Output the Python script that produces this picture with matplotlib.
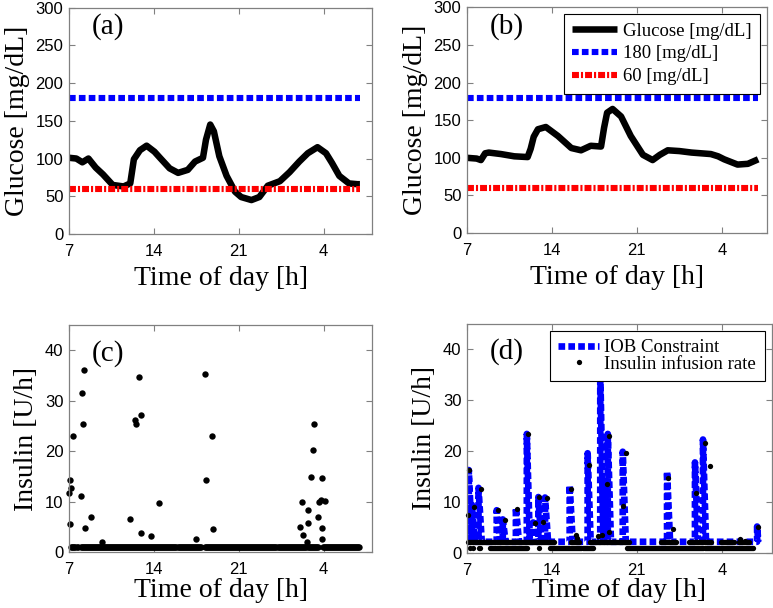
import matplotlib
matplotlib.use("Agg")
import matplotlib.pyplot as plt
import numpy as np

plt.rcParams['lines.scale_dashes'] = False

# ---------------- data ----------------
hour_ticks = [7, 14, 21, 28]
hour_labels = ['7', '14', '21', '4']

# (a) glucose, scenario 1
glucose_a_hours = [7.0, 7.6, 8.1, 8.6, 9.2, 9.8, 10.6, 11.5, 12.05, 12.35, 12.85,
                   13.4, 14.05, 14.5, 15.3, 16.0, 16.8, 17.4, 18.05, 18.3, 18.65,
                   18.95, 19.4, 20.0, 20.7, 21.2, 22.05, 22.7, 23.4, 24.4, 25.2,
                   26.0, 26.7, 27.5, 28.2, 28.7, 29.3, 30.1, 30.8, 31.0]
glucose_a = [101, 100, 95, 100, 88, 79, 65, 63, 67, 99, 111,
             117, 109, 101, 87, 81, 85, 96, 101, 125, 145,
             136, 103, 77, 56, 49, 45, 49, 64, 70, 82,
             96, 107, 115, 107, 94, 77, 67, 66, 66]

# (b) glucose, scenario 2
glucose_b_hours = [7.0, 7.8, 8.15, 8.5, 8.8, 9.8, 10.9, 12.0, 12.25, 12.5, 12.85,
                   13.5, 14.5, 15.6, 16.4, 17.2, 18.05, 18.3, 18.55, 19.0, 19.7,
                   20.5, 21.5, 22.3, 22.9, 23.55, 24.5, 25.5, 27.1, 27.7, 28.2,
                   29.3, 30.15, 31.0]
glucose_b = [100, 99, 97, 106, 107, 105, 102, 101, 112, 128, 138,
             141, 129, 113, 110, 116, 115, 140, 160, 165, 155,
             129, 104, 97, 104, 110, 109, 107, 105, 102, 98,
             91, 92, 98]

upper_limit = 180
lower_limit = 60
limit_hours = [7.0, 31.0]

# (c) insulin infusion, scenario 1
ins_c_hours = [7.0, 7.08, 7.2, 7.08, 7.3, 7.96, 8.04, 8.12, 8.24, 8.3, 8.81, 9.75,
               12.0, 12.43, 12.5, 12.77, 12.9, 12.96, 13.78, 14.44, 17.5, 18.18,
               18.28, 18.8, 18.9, 26.03, 26.2, 26.3, 26.6, 26.7, 26.75, 26.96,
               27.12, 27.18, 27.53, 27.6, 27.75, 27.84, 27.9, 27.9, 28.09]
ins_c = [11.7, 14.2, 12.8, 5.6, 23.0, 11.1, 31.5, 25.4, 36.0, 4.9, 6.9, 2.0,
         6.5, 26.1, 25.3, 34.6, 27.1, 3.75, 3.3, 9.7, 2.7, 35.2,
         14.2, 23.0, 4.7, 5.1, 10.0, 3.4, 2.0, 8.4, 5.7, 14.9,
         20.3, 25.4, 6.9, 10.0, 10.3, 4.9, 2.6, 14.6, 10.2]
basal_c = 1.0
basal_c_spans = [(7.2, 7.75), (7.95, 17.9), (18.2, 26.6), (26.7, 27.55), (27.95, 31.0)]

# (d) IOB constraint spikes (start, peak, end) and insulin infusion
iob_base = 2.2
iob_start = [7.15, 7.4, 7.95, 9.45, 9.95, 11.03, 11.93, 12.45, 12.88, 13.43,
             15.46, 16.94, 17.98, 18.3, 18.6, 19.83, 23.48, 25.78, 26.44, 30.9]
iob_peak = [16.3, 9.5, 12.8, 8.4, 6.6, 8.9, 23.4, 6.0, 11.0, 10.9,
            13.3, 19.6, 36.0, 14.0, 23.4, 19.9, 16.0, 17.8, 22.3, 5.2]
iob_end = [7.4, 7.65, 8.22, 9.72, 10.18, 11.28, 12.18, 12.72, 13.13, 13.68,
           15.71, 17.19, 18.24, 18.58, 18.86, 20.08, 23.73, 26.03, 26.69, 31.0]

ins_d_hours = [7.11, 7.19, 7.58, 8.13, 9.58, 10.13, 11.15, 12.05, 12.6, 12.96,
               13.23, 13.62, 15.57, 15.98, 16.09, 17.08, 17.82, 18.09, 18.5,
               18.7, 18.72, 19.82, 20.1, 23.6, 24.0, 25.86, 26.6, 27.02, 29.5,
               29.9, 30.94]
ins_d = [7.5, 16.3, 9.0, 12.6, 8.4, 6.5, 8.7, 23.3, 5.9, 11.0,
         6.0, 10.9, 12.6, 3.5, 2.9, 17.3, 3.4, 3.6, 13.6,
         4.1, 23.0, 9.3, 19.7, 14.8, 4.7, 11.8, 21.6, 17.1, 2.7,
         2.4, 5.2]
basal_d_hi = 2.2
basal_d_hi_spans = [(7.1, 14.25), (15.6, 16.3), (17.1, 20.4), (23.0, 24.3),
                    (25.3, 27.2), (27.9, 29.0), (29.4, 30.3)]
basal_d_lo = 1.0
basal_d_lo_spans = [(7.25, 7.3), (7.5, 7.55), (7.95, 8.05), (8.9, 12.05),
                    (12.95, 13.0), (13.85, 17.4), (20.15, 30.6)]

# ---------------- style ----------------
SERIF = 'Liberation Serif'
SANS = 'Liberation Sans'
FRAME = '#808080'
BLUE_DASH = (4.8, 2.3)
RED_DASHDOT = (5.0, 1.45, 1.5, 1.45)
LW = 4.4


def span_hours(spans):
    # 5-minute samples inside each span
    return np.concatenate([np.arange(a, b + 1e-9, 1 / 12) for a, b in spans])


def style_axes(ax, xmax, ylim, yticks, ylabel, tag, tag_xy, xpad):
    ax.set_xlim(7, xmax)
    ax.set_ylim(*ylim)
    ax.set_xticks(hour_ticks)
    ax.set_xticklabels(hour_labels)
    ax.set_yticks(yticks)
    ax.tick_params(direction='in', top=True, right=True, length=4, width=0.8,
                   color=FRAME, labelsize=12, pad=4)
    ax.tick_params(axis='x', pad=7)
    for lab in ax.get_xticklabels() + ax.get_yticklabels():
        lab.set_family(SANS)
    for sp in ax.spines.values():
        sp.set_color(FRAME)
        sp.set_linewidth(0.9)
    ax.set_xlabel('Time of day [h]', family=SERIF, fontsize=20, labelpad=xpad)
    ax.set_ylabel(ylabel, family=SERIF, fontsize=20, labelpad=4)
    ax.text(tag_xy[0], tag_xy[1], tag, transform=ax.transAxes, family=SERIF,
            fontsize=21, va='center', ha='left')


def boxed_legend(ax, anchor, spacing, pad, hlen):
    leg = ax.legend(loc='upper right', bbox_to_anchor=anchor, borderaxespad=0,
                    prop={'family': SERIF, 'size': 13.5}, handlelength=hlen,
                    handletextpad=0.28, labelspacing=spacing, borderpad=pad,
                    fancybox=False, framealpha=1)
    leg.get_frame().set_edgecolor('black')
    leg.get_frame().set_linewidth(0.8)
    return leg


fig = plt.figure(figsize=(7.73, 6.08), dpi=100)
ax_a = fig.add_axes([0.0893, 0.6151, 0.3920, 0.3725])
ax_b = fig.add_axes([0.6041, 0.6168, 0.3877, 0.3709])
ax_c = fig.add_axes([0.0893, 0.0916, 0.3920, 0.3743])
ax_d = fig.add_axes([0.6041, 0.0905, 0.3942, 0.3766])

# (a) and (b)
for ax, hrs, vals, xmax, tag in [(ax_a, glucose_a_hours, glucose_a, 32.0, '(a)'),
                                 (ax_b, glucose_b_hours, glucose_b, 31.7, '(b)')]:
    ax.plot(hrs, vals, color='black', lw=LW + 0.3, solid_joinstyle='round',
            solid_capstyle='butt', label='Glucose [mg/dL]')
    ax.plot(limit_hours, [upper_limit] * 2, color='#0000ff', lw=LW,
            dashes=BLUE_DASH, dash_capstyle='butt', label='180 [mg/dL]')
    ax.plot(limit_hours, [lower_limit] * 2, color='#ff0000', lw=LW,
            dashes=RED_DASHDOT, dash_capstyle='butt', label='60 [mg/dL]')
    style_axes(ax, xmax, (0, 300), range(0, 301, 50), 'Glucose [mg/dL]', tag,
               (0.076, 0.915), 5.5)

boxed_legend(ax_b, (0.977, 0.971), 0.3, 0.45, 2.4)

# (c)
c_base = span_hours(basal_c_spans)
ax_c.plot(c_base, np.full(c_base.size, basal_c), 'o', color='black', ms=4.6,
          mew=0, clip_on=False)
ax_c.plot(ins_c_hours, ins_c, 'o', color='black', ms=4.6, mew=0, clip_on=False)
style_axes(ax_c, 32.0, (0, 45), range(0, 41, 10), 'Insulin [U/h]', '(c)',
           (0.075, 0.874), 0.5)

# (d)
iob_x, iob_y = [7.0], [iob_base]
for s, p, e in zip(iob_start, iob_peak, iob_end):
    iob_x += [s, s, e]
    iob_y += [iob_base, p, iob_base]
iob_x.append(31.0)
iob_y.append(iob_base)
ax_d.plot(iob_x, iob_y, color='#0000ff', lw=LW + 0.4, dashes=BLUE_DASH,
          dash_capstyle='butt', label='IOB Constraint')
d_hi = span_hours(basal_d_hi_spans)
d_lo = span_hours(basal_d_lo_spans)
ax_d.plot(d_hi, np.full(d_hi.size, basal_d_hi), 'o', color='black', ms=3.8,
          mew=0, clip_on=False)
ax_d.plot(d_lo, np.full(d_lo.size, basal_d_lo), 'o', color='black', ms=3.8,
          mew=0, clip_on=False)
ax_d.plot(ins_d_hours, ins_d, 'o', color='black', ms=3.8, mew=0, clip_on=False,
          label='Insulin infusion rate')
style_axes(ax_d, 32.1, (0, 45), range(0, 41, 10), 'Insulin [U/h]', '(d)',
           (0.0755, 0.879), 0.5)

boxed_legend(ax_d, (0.977, 0.97), -0.05, 0.45, 2.2)

fig.savefig('out.png', dpi=100)
